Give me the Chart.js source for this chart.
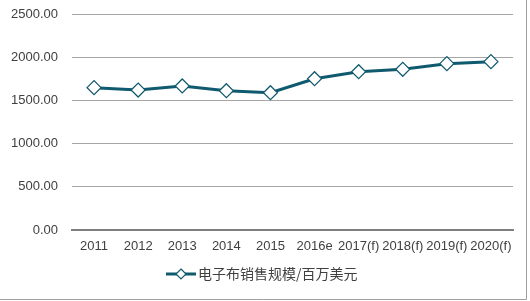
<!DOCTYPE html>
<html>
<head>
<meta charset="utf-8">
<script src="https://cdn.jsdelivr.net/npm/chart.js@4/dist/chart.umd.min.js"></script>
<style>
html,body{margin:0;padding:0;background:#fff;}
#wrap{position:relative;width:530px;height:301px;}
</style>
</head>
<body>
<div id="wrap"><canvas id="c" width="530" height="301"></canvas></div>
<script>
const categories = ["2011","2012","2013","2014","2015","2016e","2017(f)","2018(f)","2019(f)","2020(f)"];
const seriesName = "电子布销售规模/百万美元";
const salesValues = [1647, 1620, 1667, 1612, 1589, 1751, 1832, 1860, 1925, 1948];
const yTicks = [0, 500, 1000, 1500, 2000, 2500];

const lineColor = "#0f5a6e";
const textColor = "#404040";

const frameAndLegend = {
  id: "frameAndLegend",
  afterDraw(chart) {
    const ctx = chart.ctx;
    ctx.save();
    ctx.strokeStyle = "#a0a0a0";
    ctx.lineWidth = 1;
    ctx.beginPath();
    ctx.moveTo(526.5, 0);
    ctx.lineTo(526.5, 299.5);
    ctx.lineTo(0, 299.5);
    ctx.stroke();
    const y = 274;
    ctx.strokeStyle = lineColor;
    ctx.lineWidth = 3;
    ctx.beginPath();
    ctx.moveTo(166, y);
    ctx.lineTo(196, y);
    ctx.stroke();
    const cx = 181, r = 5;
    ctx.beginPath();
    ctx.moveTo(cx, y - r);
    ctx.lineTo(cx + r, y);
    ctx.lineTo(cx, y + r);
    ctx.lineTo(cx - r, y);
    ctx.closePath();
    ctx.fillStyle = "#fff";
    ctx.fill();
    ctx.lineWidth = 1.2;
    ctx.stroke();
    ctx.fillStyle = textColor;
    ctx.font = "14px 'Noto Sans CJK SC', sans-serif";
    ctx.textBaseline = "middle";
    ctx.textAlign = "left";
    ctx.fillText(chart.data.datasets[0].label, 198, y);
    ctx.restore();
  }
};

new Chart(document.getElementById("c"), {
  type: "line",
  data: {
    labels: categories,
    datasets: [{
      label: seriesName,
      data: salesValues,
      borderColor: lineColor,
      borderWidth: 3,
      backgroundColor: "#ffffff",
      pointStyle: "rectRot",
      pointRadius: 7,
      pointBorderWidth: 1.2,
      pointBorderColor: lineColor,
      pointBackgroundColor: "#ffffff",
      tension: 0
    }]
  },
  options: {
    responsive: false,
    animation: false,
    devicePixelRatio: 1,
    layout: { padding: { top: 14, right: 17, left: 0, bottom: 0 } },
    plugins: { legend: { display: false }, tooltip: { enabled: false } },
    scales: {
      x: {
        offset: true,
        grid: { display: false, drawTicks: false },
        border: { display: true, color: "#7f7f7f", width: 2 },
        ticks: {
          autoSkip: false, maxRotation: 0, minRotation: 0,
          color: textColor, padding: 9,
          font: { family: "'Liberation Sans', Arial, sans-serif", size: 13 }
        },
        afterFit(scale) { scale.height = 71; scale.paddingLeft = 0; scale.paddingRight = 0; }
      },
      y: {
        min: 0, max: 2500,
        afterBuildTicks(scale) { scale.ticks = yTicks.map(v => ({ value: v })); },
        grid: {
          drawTicks: false,
          color: ctx => ctx.tick && ctx.tick.value === 0 ? "rgba(0,0,0,0)" : "#a6a6a6",
          lineWidth: 1
        },
        border: { display: false },
        ticks: {
          color: textColor, padding: 14,
          font: { family: "'Liberation Sans', Arial, sans-serif", size: 13 },
          callback: v => Number(v).toFixed(2)
        },
        afterFit(scale) { scale.width = 72; scale.paddingTop = 0; scale.paddingBottom = 0; }
      }
    }
  },
  plugins: [frameAndLegend]
});
</script>
</body>
</html>
